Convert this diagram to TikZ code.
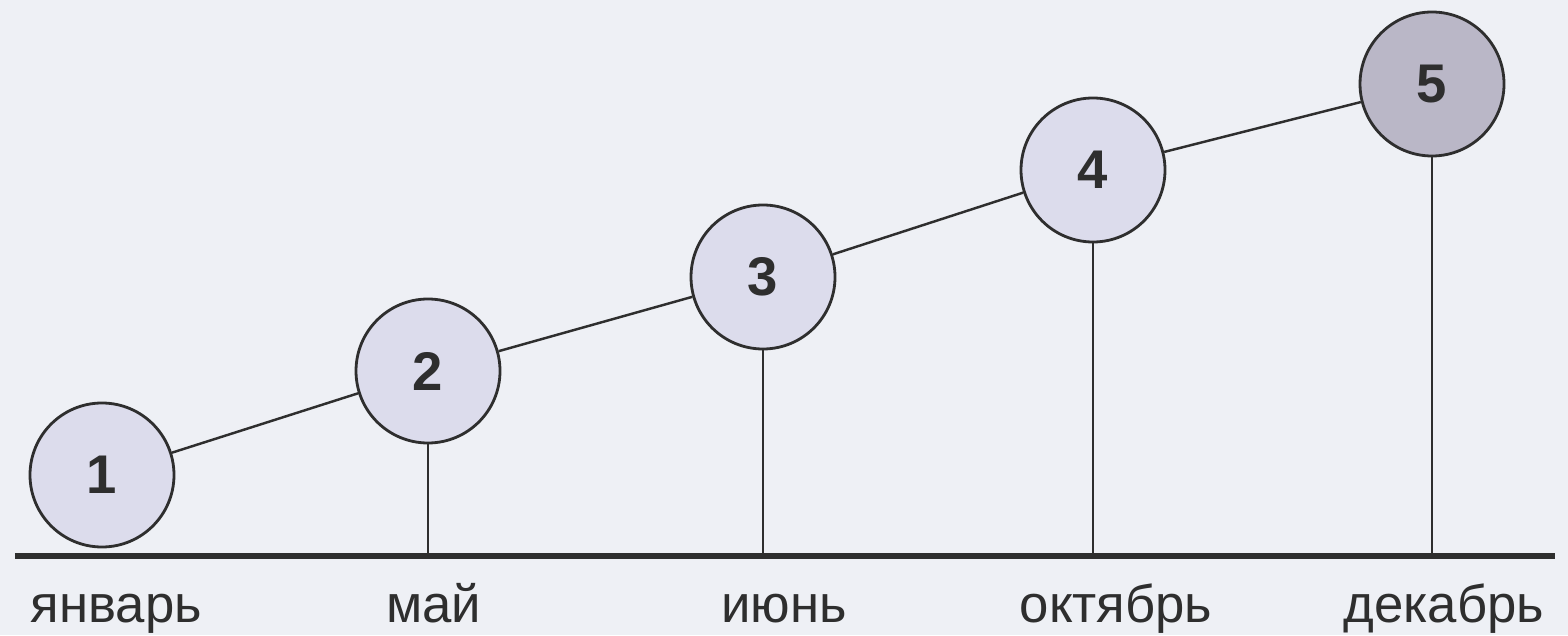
\documentclass[tikz,border=0pt]{standalone}
\usepackage{fontspec}
\setmainfont{Liberation Sans}
\usepackage{tikz}
\definecolor{paper}{HTML}{EEF0F5}
\definecolor{ink}{HTML}{2E2E2E}
\definecolor{ballfill}{HTML}{DCDCEC}
\definecolor{lastfill}{HTML}{BAB7C7}

\begin{document}
\begin{tikzpicture}[
    ball/.style={draw=ink, line width=0.8pt, shape=circle, fill=ballfill, inner sep=0pt, minimum size=1.44cm, font=\fontsize{15.5}{16}\selectfont\bfseries, text=ink},
    month/.style={anchor=base, font=\fontsize{15}{16}\selectfont, text=ink},
    stem/.style={draw=ink, line width=0.7pt}]
    \fill[paper] (0,0) rectangle (15.68,6.35);
    \useasboundingbox (0,0) rectangle (15.68,6.35);
    % axis
    \coordinate(a0) at (0.15, 0.79);
    \coordinate(a1) at (15.55, 0.79);
    \draw[ink, line width=1.6pt] (a0) -- (a1);
    % the five balls
    \node(c1)[ball] at (1.02, 1.60) {1};
    \node(c2)[ball] at (4.28, 2.64) {2};
    \node(c3)[ball] at (7.63, 3.58) {3};
    \node(c4)[ball] at (10.93, 4.65) {4};
    \node(c5)[ball, fill=lastfill] at (14.32, 5.51) {5};
    % feet on the axis
    \coordinate(f2) at (4.28, 0.79);
    \coordinate(f3) at (7.63, 0.79);
    \coordinate(f4) at (10.93, 0.79);
    \coordinate(f5) at (14.32, 0.79);
    \draw[stem] (c1) -- (c2);
    \draw[stem] (c2) -- (c3);
    \draw[stem] (c3) -- (c4);
    \draw[stem] (c4) -- (c5);
    \draw[stem] (c2) -- (f2);
    \draw[stem] (c3) -- (f3);
    \draw[stem] (c4) -- (f4);
    \draw[stem] (c5) -- (f5);
    % months
    \node(m1)[month] at (1.165, 0.13) {январь};
    \node(m2)[month] at (4.335, 0.13) {май};
    \node(m3)[month] at (7.84, 0.13) {июнь};
    \node(m4)[month] at (11.16, 0.13) {октябрь};
    \node(m5)[month] at (14.44, 0.13) {декабрь};
\end{tikzpicture}
\end{document}
